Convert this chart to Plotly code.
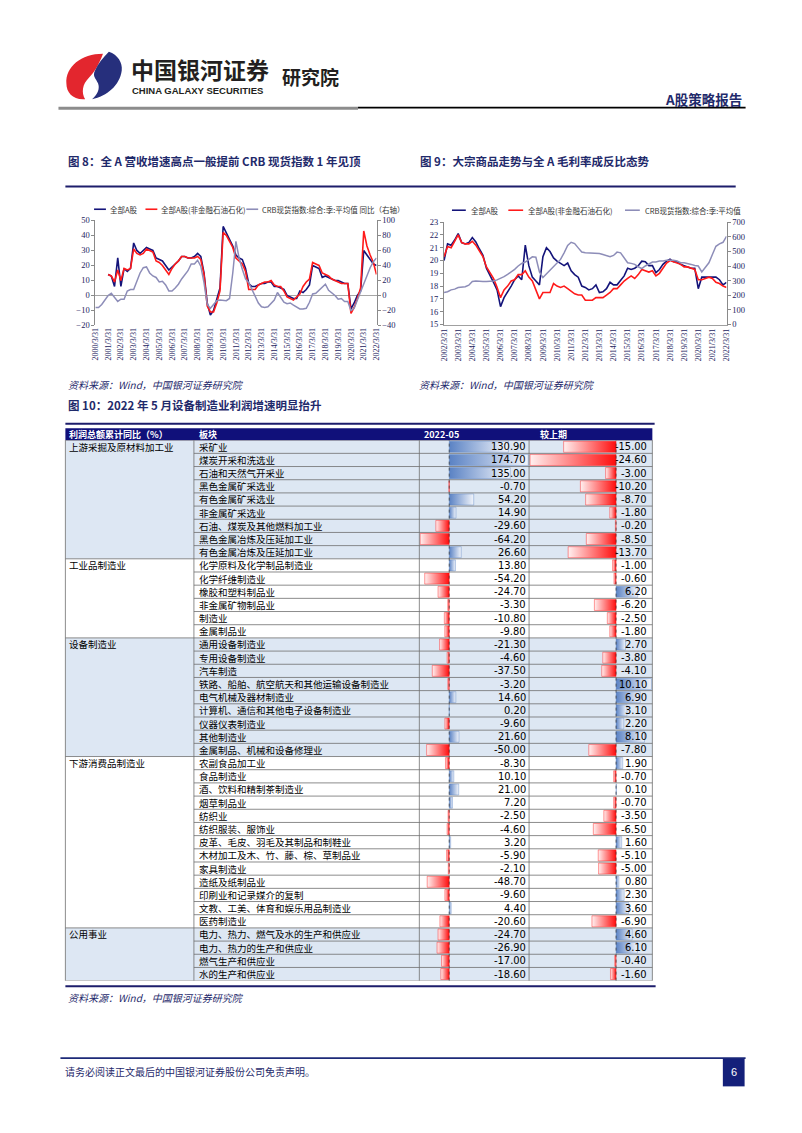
import plotly.graph_objects as go

# The page body has an 8px margin, so the figure is drawn at an 8px offset.
OFF = 8
W, H = 802 - OFF, 1133 - OFF


def X(p):
    return (p - OFF) / W


def Y(p):
    return 1 - (p - OFF) / H


CJK = "Noto Sans CJK SC"
SERIF = "Liberation Serif"
NARROW = "Liberation Sans Narrow, DejaVu Sans Condensed, Liberation Sans"
NAVY_TXT = "#1f2a6b"
TICK_C = "#23235e"
C_NAVY = "#14147a"
C_RED = "#ff1a1a"
C_GREY = "#8d8db8"

# ---------------- Figure 8 data (quarterly, 2000Q1 - 2022Q1) ----------------
quarter_ends = ["03-31", "06-30", "09-30", "12-31"]
years8 = list(range(2000, 2023))
dates8 = [f"{y}-{q}" for y in years8 for q in quarter_ends][:89]
ticks8_vals = [f"{y}-03-31" for y in years8]
ticks8_text = [f"{y}/3/31" for y in years8]

crb_yoy_8 = [-16, -16, -12, -5, 0, 3, -3, -8, -5, -5, 6, 8, 8, 20, 30, 37,
             38, 30, 26, 24, 18, 19, 14, 6, 6, 10, 15, 22, 28, 33, 42, 42,
             47, 39, 17, -12, -17, -12, -7, -6, -7, -7, -4, 30, 72, 50, 35, 22,
             17, 8, -2, -10, -15, -16, -15, -11, -6, 4, -2, -9, -11, -10, -13, -16,
             -18, -18, -17, -9, 2, 3, 7, 11, 15, 7, 4, 0, -5, -4, -8, -8,
             -20, -17, -6, 5, 16, 27, 37, 45, 50]
start8 = 4  # A-share series begin in 2001Q1
all_a_8 = [14, 13, 6, 25, 6, 18, 16, 18, 35, 30, 28, 30, 32, 31, 30, 25,
           24, 23, 20, 17, 19, 21, 23, 26, 26, 25, 25, 26, 28, 26, 15, -5,
           -13, -10, -3, 5, 46, 42, 37, 33, 27, 25, 24, 18, 8, 6, 6, 7,
           8, 8, 9, 9, 6, 6, 5, 4, 0, -1, -2, -2, 3, 2, 4, 7,
           20, 19, 18, 12, 13, 12, 11, 10, 10, 9, 8, 8, -9, -5, 0, 3,
           30, 27, 24, 21, 20]
exfin_8 = [14, 13, 9, 17, 10, 18, 17, 18, 31, 28, 27, 28, 31, 30, 29, 23,
           22, 20, 17, 14, 18, 21, 23, 26, 26, 25, 25, 25, 26, 24, 14, -7,
           -11, -11, -5, 3, 42, 40, 36, 32, 25, 23, 21, 16, 4, 4, 4, 7,
           8, 9, 9, 10, 7, 6, 6, 3, -1, -2, -3, -1, 1, 6, 9, 11,
           22, 21, 20, 15, 14, 13, 11, 10, 9, 8, 8, 8, -12, -8, -2, 5,
           43, 33, 27, 22, 14]

# ---------------- Figure 9 data (quarterly, 2002Q1 - 2022Q1) ----------------
years9 = list(range(2002, 2023))
dates9 = [f"{y}-{q}" for y in years9 for q in quarter_ends][:81]
ticks9_vals = [f"{y}-03-31" for y in years9]
ticks9_text = [f"{y}/3/31" for y in years9]

all_a_9 = [20.0, 21.3, 21.2, 21.6, 22.1, 21.4, 21.3, 21.4, 21.8, 21.45, 20.9, 20.4,
           19.4, 18.9, 18.3, 17.7, 16.4, 17.1, 17.5, 18.0, 18.5, 18.8, 18.5, 21.2,
           19.6, 18.7, 18.4, 18.1, 20.3, 21.0, 20.7, 20.2, 19.95, 19.8, 19.6, 19.8,
           19.2, 18.9, 18.7, 18.0, 17.9, 17.7, 17.8, 18.1, 17.5, 17.55, 17.8, 18.3,
           18.1, 18.1, 18.5, 18.8, 19.4, 19.3, 19.4, 19.6, 19.95, 19.9, 19.6, 19.6,
           19.05, 19.3, 19.7, 19.95, 20.1, 19.9, 19.9, 19.7, 19.6, 19.5, 19.4, 19.4,
           17.8, 18.7, 18.7, 18.7, 18.7, 18.7, 18.5, 18.1, 18.3]
exfin_9 = [20.3, 21.1, 21.0, 21.5, 22.0, 21.4, 21.3, 21.3, 21.5, 21.2, 20.7, 20.3,
           19.5, 19.0, 18.6, 17.9, 17.1, 17.7, 18.0, 18.4, 18.5, 18.9, 18.9, 19.2,
           18.7, 18.4, 17.7, 17.0, 17.5, 17.5, 17.5, 18.2, 18.0, 17.9, 18.0, 17.8,
           17.6, 17.4, 17.3, 17.3, 16.9, 16.9, 16.9, 17.1, 17.1, 17.1, 17.3, 17.5,
           17.8, 17.8, 18.1, 18.4, 18.6, 18.8, 18.6, 18.9, 19.3, 19.2, 19.1, 19.2,
           18.8, 19.0, 19.4, 19.8, 20.0, 19.9, 19.8, 19.7, 19.5, 19.5, 19.4, 19.3,
           18.5, 18.5, 18.6, 18.7, 18.6, 18.3, 18.2, 18.0, 17.9]
crb_9 = [219, 224, 237, 242, 253, 253, 258, 269, 294, 298, 294, 294,
         294, 294, 298, 305, 314, 327, 343, 359, 377, 400, 418, 427,
         445, 463, 460, 360, 321, 345, 370, 395, 422, 445, 490, 540,
         562, 553, 524, 495, 490, 490, 486, 486, 486, 479, 472, 463,
         472, 495, 490, 456, 422, 418, 411, 395, 382, 400, 411, 427,
         427, 434, 434, 440, 440, 440, 434, 422, 422, 418, 411, 404,
         400, 359, 388, 422, 479, 535, 551, 562, 603]

# ---------------- Figure 10 table data ----------------
groups = ["上游采掘及原材料加工业", "工业品制造业", "设备制造业", "下游消费品制造业", "公用事业"]
group_sizes = [9, 6, 9, 13, 4]
sectors = ["采矿业", "煤炭开采和洗选业", "石油和天然气开采业", "黑色金属矿采选业", "有色金属矿采选业",
           "非金属矿采选业", "石油、煤炭及其他燃料加工业", "黑色金属冶炼及压延加工业", "有色金属冶炼及压延加工业",
           "化学原料及化学制品制造业", "化学纤维制造业", "橡胶和塑料制品业", "非金属矿物制品业", "制造业", "金属制品业",
           "通用设备制造业", "专用设备制造业", "汽车制造", "铁路、船舶、航空航天和其他运输设备制造业", "电气机械及器材制造业",
           "计算机、通信和其他电子设备制造业", "仪器仪表制造业", "其他制造业", "金属制品、机械和设备修理业",
           "农副食品加工业", "食品制造业", "酒、饮料和精制茶制造业", "烟草制品业", "纺织业", "纺织服装、服饰业",
           "皮革、毛皮、羽毛及其制品和制鞋业", "木材加工及木、竹、藤、棕、草制品业", "家具制造业", "造纸及纸制品业",
           "印刷业和记录媒介的复制", "文教、工美、体育和娱乐用品制造业", "医药制造业",
           "电力、热力、燃气及水的生产和供应业", "电力、热力的生产和供应业", "燃气生产和供应业", "水的生产和供应业"]
yoy_2022_05 = [130.90, 174.70, 135.00, -0.70, 54.20, 14.90, -29.60, -64.20, 26.60,
               13.80, -54.20, -24.70, -3.30, -10.80, -9.80,
               -21.30, -4.60, -37.50, -3.20, 14.60, 0.20, -9.60, 21.60, -50.00,
               -8.30, 10.10, 21.00, 7.20, -2.50, -4.60, 3.20, -5.90, -2.10, -48.70, -9.60, 4.40, -20.60,
               -24.70, -26.90, -17.00, -18.60]
chg_prev = [-15.00, -24.60, -3.00, -10.20, -8.70, -1.80, -0.20, -8.50, -13.70,
            -1.00, -0.60, 6.20, -6.20, -2.50, -1.80,
            2.70, -3.80, -4.10, 10.10, 6.90, 3.10, 2.20, 8.10, -7.80,
            1.90, -0.70, 0.10, -0.70, -3.50, -6.50, 1.60, -5.10, -5.00, 0.80, 2.30, 3.60, -6.90,
            4.60, 6.10, -0.40, -1.60]
header = ["利润总额累计同比（%）", "板块", "2022-05", "较上期"]

# ---------------- layout geometry (pixels) ----------------
TL, C1, C2, C3, TR = 62, 192, 420, 531, 655.7
HEAD_T, ROW_T, ROW_B = 427, 439, 984.3
N = len(sectors)

fig = go.Figure()

# ---- Figure 8 traces ----
fig.add_trace(go.Scatter(x=dates8[start8:], y=all_a_8, xaxis="x", yaxis="y", mode="lines",
                         line=dict(color=C_NAVY, width=1.6)))
fig.add_trace(go.Scatter(x=dates8[start8:], y=exfin_8, xaxis="x", yaxis="y", mode="lines",
                         line=dict(color=C_RED, width=1.6)))
fig.add_trace(go.Scatter(x=dates8, y=crb_yoy_8, xaxis="x", yaxis="y2", mode="lines",
                         line=dict(color=C_GREY, width=1.5)))
# ---- Figure 9 traces ----
fig.add_trace(go.Scatter(x=dates9, y=all_a_9, xaxis="x2", yaxis="y3", mode="lines",
                         line=dict(color=C_NAVY, width=1.6)))
fig.add_trace(go.Scatter(x=dates9, y=exfin_9, xaxis="x2", yaxis="y3", mode="lines",
                         line=dict(color=C_RED, width=1.6)))
fig.add_trace(go.Scatter(x=dates9, y=crb_9, xaxis="x2", yaxis="y4", mode="lines",
                         line=dict(color=C_GREY, width=1.5)))

# ---- Figure 10 gradient data bars ----
BLUE_D, BLUE_L = "#5a82c4", "#f2f5fb"
RED_D, RED_L = "#ff0d0d", "#fff0f0"
BH = 0.42


def add_bar(v, i, xa):
    if v == 0:
        return
    xs = [0, v, v, 0, 0]
    ys = [i - BH, i - BH, i + BH, i + BH, i - BH]
    if v > 0:
        cs, lc = [[0, BLUE_D], [1, BLUE_L]], "rgba(90,130,196,0.7)"
    else:
        cs, lc = [[0, RED_L], [1, RED_D]], "rgba(255,13,13,0.7)"
    fig.add_trace(go.Scatter(x=xs, y=ys, xaxis=xa, yaxis="y5", mode="lines",
                             line=dict(color=lc, width=0.6), fill="toself",
                             fillgradient=dict(type="horizontal", colorscale=cs),
                             hoverinfo="skip"))


for i, v in enumerate(yoy_2022_05):
    add_bar(v, i, "x3")
for i, v in enumerate(chg_prev):
    add_bar(v, i, "x4")


def col_range(vals):
    lo, hi = min(vals), max(vals)
    pad = (hi - lo) * 0.008
    return [lo - pad, hi + pad]


# ---------------- shapes & annotations ----------------
shapes = []
ann = []


def line_px(x0, y0, x1, y1, color, width, dash="solid"):
    shapes.append(dict(type="line", xref="paper", yref="paper", x0=X(x0), y0=Y(y0), x1=X(x1), y1=Y(y1),
                       line=dict(color=color, width=width, dash=dash), layer="above"))


def rect_px(x0, y0, x1, y1, fill, layer="below"):
    shapes.append(dict(type="rect", xref="paper", yref="paper", x0=X(x0), y0=Y(y0), x1=X(x1), y1=Y(y1),
                       fillcolor=fill, line=dict(width=0), layer=layer))


def text_px(x, y, s, size, color="#000000", family=CJK, xanchor="left", yanchor="middle"):
    ann.append(dict(x=X(x), y=Y(y), xref="paper", yref="paper", text=s, showarrow=False,
                    xanchor=xanchor, yanchor=yanchor, font=dict(size=size, color=color, family=family)))


def path_px(cmds):
    out = []
    for c in cmds:
        if isinstance(c, str):
            out.append(c)
        else:
            out.append(f"{X(c[0]):.5f},{Y(c[1]):.5f}")
    return " ".join(out)


# --- logo ---
red_logo = path_px(["M", (100, 49), "C", (78, 49), (62, 62), (63, 79), "C", (63, 89), (70, 96), (82, 95),
                    "C", (78, 88), (79, 80), (86, 73), "C", (91, 68), (96, 60), (100, 49), "Z"])
navy_logo = path_px(["M", (106, 47), "C", (115, 50), (120, 58), (119, 66), "C", (117, 81), (104, 92), (89, 95),
                     "C", (95, 90), (97, 84), (95, 79), "C", (93, 74), (89, 72), (92, 66),
                     "C", (95, 59), (100, 53), (106, 47), "Z"])
shapes.append(dict(type="path", xref="paper", yref="paper", path=red_logo, fillcolor="#e3262e",
                   line=dict(width=0), layer="above"))
shapes.append(dict(type="path", xref="paper", yref="paper", path=navy_logo, fillcolor="#262f7c",
                   line=dict(width=0), layer="above"))
text_px(126, 64, "<b>中国银河证券</b>", 23, "#231f20")
text_px(127, 86.5, "<b>CHINA GALAXY SECURITIES</b>", 9.5, "#231f20", "Liberation Sans")
text_px(279, 72, "<b>研究院</b>", 19, "#231f20")
text_px(748, 95, "<b>A股策略报告</b>", 13.5, NAVY_TXT, xanchor="right")
line_px(55, 104, 358, 104, "#8c8c8c", 3)
line_px(358, 103.5, 750, 103.5, "#000000", 1.6)

# --- titles of figures 8 / 9 ---
text_px(63, 157, "<b>图 8：全 A 营收增速高点一般提前 CRB 现货指数 1 年见顶</b>", 11.5, NAVY_TXT)
text_px(419, 157, "<b>图 9：大宗商品走势与全 A 毛利率成反比态势</b>", 11.5, NAVY_TXT)
line_px(62, 183, 740, 183, "#1d1d6b", 2)

# --- legends (manual, short line keys) ---
leg8 = [(91, 103, C_NAVY, "全部A股"), (143, 155, C_RED, "全部A股(非金融石油石化)"),
        (245, 257, C_GREY, "CRB现货指数:综合:季:平均值 同比（右轴）")]
for x0, x1, c, s in leg8:
    line_px(x0, 206, x1, 206, c, 1.6)
    text_px(x1 + 2, 206, s, 7.5, "#333333")
leg9 = [(453, 467, C_NAVY, "全部A股"), (510, 525, C_RED, "全部A股(非金融石油石化)"),
        (628, 643, C_GREY, "CRB现货指数:综合:季:平均值")]
for x0, x1, c, s in leg9:
    line_px(x0, 207, x1, 207, c, 1.6)
    text_px(x1 + 3, 207, s, 7.5, "#333333")

# --- sources ---
SRC = "<i>资料来源：Wind，中国银河证券研究院</i>"
text_px(63, 383, SRC, 10, NAVY_TXT)
text_px(418, 383, SRC, 10, NAVY_TXT)

# --- figure 10 title ---
text_px(63, 404, "<b>图 10：2022 年 5 月设备制造业利润增速明显抬升</b>", 11.5, NAVY_TXT)
line_px(62, 422.5, 658, 422.5, "#1d1d6b", 2)

# --- table header ---
rect_px(TL, HEAD_T, TR, ROW_T, "#10107a", layer="above")
for xh, s in zip([64, 195, 423, 540], header):
    text_px(xh, (HEAD_T + ROW_T) / 2, f"<b>{s}</b>", 9, "#ffffff")

# --- table body backgrounds / grid ---
LIGHT = "#dde7f3"
starts = []
r = 0
for g, n in zip(groups, group_sizes):
    starts.append(r)
    r += n
for gi, (s0, n) in enumerate(zip(starts, group_sizes)):
    fill = LIGHT if gi % 2 == 0 else "#ffffff"
    shapes.append(dict(type="rect", xref="paper", yref="y5", x0=X(TL), x1=X(TR), y0=s0 - 0.5, y1=s0 + n - 0.5,
                       fillcolor=fill, line=dict(width=0), layer="below"))
    ann.append(dict(x=X(64), y=s0, xref="paper", yref="y5", text=groups[gi], showarrow=False,
                    xanchor="left", yanchor="middle", font=dict(size=9.5, color="#000", family=CJK)))

GRID = "#6e6e6e"
group_bounds = set(starts + [N])
for k in range(N + 1):
    x0 = TL if k in group_bounds else C1
    shapes.append(dict(type="line", xref="paper", yref="y5", x0=X(x0), x1=X(TR), y0=k - 0.5, y1=k - 0.5,
                       line=dict(color=GRID, width=0.8), layer="above"))
for xv in [TL, C1, C2, C3, TR]:
    line_px(xv, ROW_T, xv, ROW_B, GRID, 0.8)
# dotted data-bar axes at zero
for xa in ["x3", "x4"]:
    shapes.append(dict(type="line", xref=xa, yref="paper", x0=0, x1=0, y0=Y(ROW_B), y1=Y(ROW_T),
                       line=dict(color="#333333", width=0.7, dash="dot"), layer="above"))

for i in range(N):
    ann.append(dict(x=X(195), y=i, xref="paper", yref="y5", text=sectors[i], showarrow=False,
                    xanchor="left", yanchor="middle", font=dict(size=9.5, color="#000", family=CJK)))
    ann.append(dict(x=X(C3 - 1.5), y=i, xref="paper", yref="y5", text=f"{yoy_2022_05[i]:.2f}", showarrow=False,
                    xanchor="right", yanchor="middle", font=dict(size=11, color="#000", family=NARROW)))
    ann.append(dict(x=X(TR - 3), y=i, xref="paper", yref="y5", text=f"{chg_prev[i]:.2f}", showarrow=False,
                    xanchor="right", yanchor="middle", font=dict(size=11, color="#000", family=NARROW)))

line_px(62, 990, 659, 990, "#1d1d6b", 1.8)
text_px(63, 1001, SRC, 10, NAVY_TXT)

# --- footer ---
line_px(57, 1062.5, 750, 1062.5, "#1d2a78", 1.6)
text_px(60, 1076, "请务必阅读正文最后的中国银河证券股份公司免责声明。", 10, NAVY_TXT)
rect_px(727, 1063, 749, 1091, "#14207a", layer="above")
text_px(738, 1077, "6", 11, "#ffffff", "Liberation Sans", xanchor="center")

# ---------------- axes ----------------
tickfont = dict(family=SERIF, size=8.5, color=TICK_C)
datefont = dict(family=SERIF, size=8, color=TICK_C)
yax_common = dict(showgrid=False, showline=True, linecolor="#8a8a8a", linewidth=1, ticks="outside",
                  ticklen=3, tickcolor="#8a8a8a", tickfont=tickfont)

fig.update_layout(
    width=W, height=H, margin=dict(l=0, r=0, t=0, b=0),
    paper_bgcolor="#ffffff", plot_bgcolor="rgba(0,0,0,0)", showlegend=False,
    xaxis=dict(domain=[X(92.3), X(376.7)], anchor="y", type="date",
               range=["2000-03-31", "2022-03-31"], tickmode="array", tickvals=ticks8_vals,
               ticktext=ticks8_text, tickangle=-90, tickfont=datefont, showgrid=False,
               zeroline=False, showline=False, ticks=""),
    yaxis=dict(domain=[Y(323.3), Y(217.3)], anchor="x", range=[-20, 50], dtick=10,
               zeroline=True, zerolinecolor="#a6a6a6", zerolinewidth=1.3, **yax_common),
    yaxis2=dict(overlaying="y", anchor="x", side="right", range=[-40, 100], dtick=20,
                zeroline=False, **yax_common),
    xaxis2=dict(domain=[X(445), X(730.7)], anchor="y3", type="date",
                range=["2002-03-31", "2022-03-31"], tickmode="array", tickvals=ticks9_vals,
                ticktext=ticks9_text, tickangle=-90, tickfont=datefont, showgrid=False,
                zeroline=False, showline=True, linecolor="#a0a0a0", linewidth=1, ticks=""),
    yaxis3=dict(domain=[Y(322.3), Y(219)], anchor="x2", range=[15, 23], dtick=1,
                zeroline=False, **yax_common),
    yaxis4=dict(overlaying="y3", anchor="x2", side="right", range=[0, 700], dtick=100,
                zeroline=False, **yax_common),
    xaxis3=dict(domain=[X(C2), X(C3)], anchor="y5", range=col_range(yoy_2022_05),
                showticklabels=False, showgrid=False, showline=False, ticks="", zeroline=False),
    xaxis4=dict(domain=[X(C3), X(TR)], anchor="y5", range=col_range(chg_prev),
                showticklabels=False, showgrid=False, showline=False, ticks="", zeroline=False),
    yaxis5=dict(domain=[Y(ROW_B), Y(ROW_T)], anchor="x3", range=[N - 0.5, -0.5],
                visible=False),
    shapes=shapes, annotations=ann,
)

fig.write_html("out.html", config={"displayModeBar": False})
